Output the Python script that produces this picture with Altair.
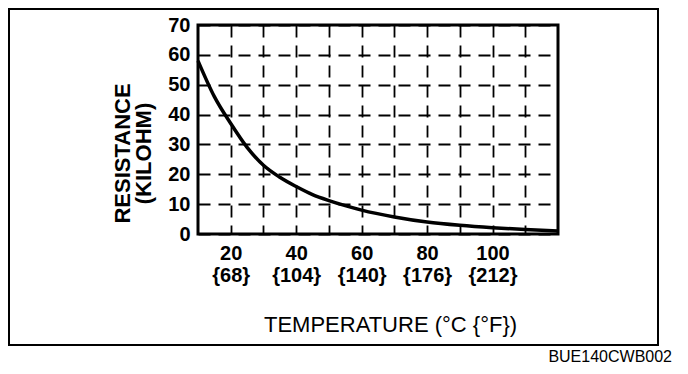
import altair as alt
import pandas as pd

# Curve: temperature (°C) vs resistance (kilohm)
temp_c = [10, 15, 20, 25, 30, 35, 40, 45, 50, 55, 60, 70, 80, 90, 100, 110, 120]
resistance = [58, 46, 37, 29, 23, 19, 15.9, 13.2, 11.2, 9.5, 8.0, 5.7, 4.0, 2.9, 2.1, 1.5, 1.0]

# Axis tick labels
celsius_labels = [20, 40, 60, 80, 100]
fahrenheit_labels = [68, 104, 140, 176, 212]
x_grid = [20, 30, 40, 50, 60, 70, 80, 90, 100, 110]
y_ticks = [0, 10, 20, 30, 40, 50, 60, 70]

FONT = "Liberation Sans"

df = pd.DataFrame({"t": temp_c, "r": resistance})

# build the two-line x labels from the lists
expr = "''"
for c, f in reversed(list(zip(celsius_labels, fahrenheit_labels))):
    expr = f"datum.value == {c} ? ['{c}', '{{{f}}}'] : ({expr})"

x_enc = alt.X(
    "t:Q",
    scale=alt.Scale(domain=[10, 120], nice=False, zero=False),
    axis=alt.Axis(
        values=x_grid,
        labelExpr=expr,
        title="TEMPERATURE (°C {°F})",
        ticks=False,
        domain=False,
        grid=True,
        gridColor="black",
        gridDash=[12, 8],
        gridWidth=1.8,
        gridOpacity=1,
        labelFont=FONT,
        labelFontSize=20,
        labelFontWeight="bold",
        labelColor="black",
        labelPadding=9,
        labelLineHeight=22,
        labelBaseline="top",
        titleFont=FONT,
        titleFontSize=22,
        titleFontWeight="normal",
        titleColor="black",
        titleX=192,
        titleY=80,
        titleAnchor="middle",
    ),
)

y_enc = alt.Y(
    "r:Q",
    scale=alt.Scale(domain=[0, 70], nice=False),
    axis=alt.Axis(
        values=y_ticks,
        title=["RESISTANCE", "(KILOHM)"],
        ticks=False,
        domain=False,
        grid=True,
        gridColor="black",
        gridDash=[12, 8],
        gridWidth=1.8,
        gridOpacity=1,
        labelFont=FONT,
        labelFontSize=20,
        labelFontWeight="bold",
        labelColor="black",
        labelPadding=8,
        titleFont=FONT,
        titleFontSize=22,
        titleFontWeight="bold",
        titleColor="black",
        titleLineHeight=21,
        titleAngle=270,
        titleX=-86,
        titleY=128,
        titleAlign="center",
        titleBaseline="top",
    ),
)

curve = alt.Chart(df).mark_line(
    color="black", strokeWidth=3.5, interpolate="monotone"
).encode(x=x_enc, y=y_enc)

one = pd.DataFrame({"a": [0]})

frame = alt.Chart(one).mark_rect(
    fill=None, fillOpacity=0, stroke="black", strokeWidth=2
).encode(
    x=alt.value(-189), x2=alt.value(460), y=alt.value(-16), y2=alt.value(320)
)

code = alt.Chart(one).mark_text(
    text="BUE140CWB002", font=FONT, fontSize=16, align="right",
    baseline="middle", color="black"
).encode(x=alt.value(474), y=alt.value(332))

chart = alt.layer(curve, frame, code).properties(
    width=360,
    height=209,
    autosize=alt.AutoSizeParams(type="none"),
    padding={"left": 190, "top": 17, "right": 122, "bottom": 132},
    background="white",
).configure_view(stroke="black", strokeWidth=3)

chart.save("out.html", embed_options={"renderer": "svg", "actions": False})
